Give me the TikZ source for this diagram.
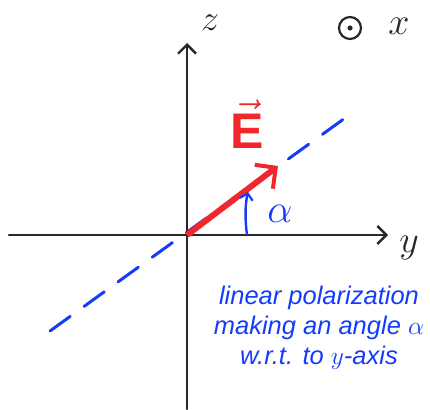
\RequirePackage{fix-cm}
\documentclass[tikz,border=0pt]{standalone}
\usepackage{amsmath}
\usepackage{fontspec}
\newfontfamily\notefont{Liberation Sans}
\usetikzlibrary{arrows.meta}
\definecolor{axisgray}{RGB}{40,40,40}
\definecolor{polblue}{RGB}{20,60,250}
\definecolor{fieldred}{RGB}{240,40,45}
\begin{document}
\begin{tikzpicture}[x=1pt,y=-1pt,
  axisline/.style={draw=axisgray,line width=2.4pt,line cap=round,
    -{Straight Barb[length=9pt,width=18pt,line width=2.4pt]}},
  polline/.style={draw=polblue,line width=3pt,line cap=round,
    dash pattern=on 25pt off 17pt},
  fieldarrow/.style={draw=fieldred,line width=6pt,
    -{Straight Barb[length=15pt,width=30pt,line width=4pt]}},
  anglearrow/.style={draw=polblue,line width=2.4pt,
    -{Straight Barb[length=6pt,width=13pt,line width=2.2pt]}},
  hand/.style={inner sep=0pt,text=axisgray},
]
\useasboundingbox (0,0) rectangle (430,409);
% coordinates
\coordinate (O) at (187,235);
\coordinate (xl) at (9,235);
\coordinate (xr) at (388,235);
\coordinate (zb) at (187,409);
\coordinate (zt) at (187,43);
\coordinate (pl) at (50,331);
\coordinate (pr) at (352,113);
\coordinate (Etip) at (278,166);
\coordinate (a0) at (247,235);
\coordinate (a1) at (248,192);
% polarization line
\draw[polline] (pl) -- (pr);
% axes
\draw[axisline] (xl) -- (xr);
\draw[axisline] (zb) -- (zt);
% field vector
\draw[fieldarrow] (O) -- (Etip);
% angle arrow
\draw[anglearrow] (a0) .. controls (245,220) and (245,205) .. (a1);
% labels
\node[hand,font=\fontsize{36}{36}\selectfont] (zlab) at (210,23) {$z$};
\node[hand,font=\fontsize{38}{38}\selectfont] (xlab) at (399,26) {$x$};
\node[hand,font=\fontsize{38}{38}\selectfont] (ylab) at (409,248) {$y$};
\node[draw=axisgray,line width=2.2pt,circle,minimum size=22pt,inner sep=0pt] (xcirc) at (350,28) {};
\fill[axisgray] (xcirc.center) circle (2.6pt);
\node[inner sep=0pt,text=fieldred,font=\fontsize{50}{50}\selectfont] (Elab) at (247,124) {$\vec{\mbox{\notefont\bfseries E}}$};
\node[inner sep=0pt,text=polblue,font=\fontsize{40}{40}\selectfont] (alab) at (280,214) {$\alpha$};
\node[text=polblue,align=center,inner sep=0pt,font=\notefont\itshape\fontsize{25.5}{30}\selectfont] (note) at (319,328)
  {linear polarization\\making an angle $\alpha$\\w.r.t. to $y$-axis};
\end{tikzpicture}
\end{document}
